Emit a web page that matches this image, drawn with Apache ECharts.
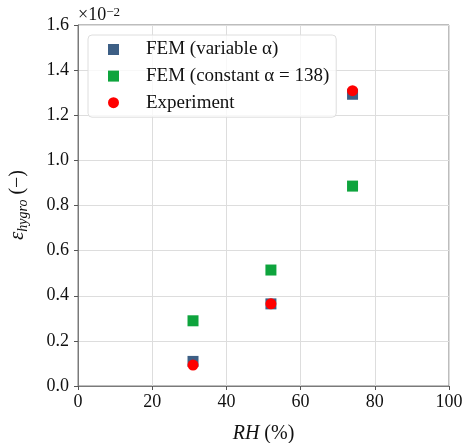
<!DOCTYPE html>
<html><head><meta charset="utf-8">
<script src="https://cdn.jsdelivr.net/npm/echarts@6/dist/echarts.min.js"></script>
<style>html,body{margin:0;padding:0;background:#fff}#c{width:465px;height:443px}</style>
</head><body><div id="c"></div>
<script>
// values in units of 1e-2
const rhValues = [31, 52, 74];
const femVariable = [0.109, 0.364, 1.293];
const femConstant = [0.289, 0.514, 0.886];
const experiment = [0.093, 0.364, 1.309];
const seriesNames = ['FEM (variable α)', 'FEM (constant α = 138)', 'Experiment'];
const xTicks = [0, 20, 40, 60, 80, 100];
const yTicks = [0.0, 0.2, 0.4, 0.6, 0.8, 1.0, 1.2, 1.4, 1.6];

const FONT = '"Liberation Serif", "DejaVu Serif", serif';
const chart = echarts.init(document.getElementById('c'));
const pairs = arr => rhValues.map((x, i) => [x, arr[i]]);
chart.setOption({
  animation: false,
  textStyle: {fontFamily: FONT},
  grid: {left: 78, right: 16, top: 25, bottom: 57, show: true, borderColor: '#7a7a7a', borderWidth: 1,
    containLabel: false, outerBoundsMode: 'none'},
  xAxis: {
    type: 'value', min: 0, max: 100, interval: 20,
    axisLine: {show: true, lineStyle: {color: '#7a7a7a'}},
    axisTick: {show: true, length: 4, lineStyle: {color: '#555'}},
    axisLabel: {color: '#111', fontSize: 18, fontFamily: FONT, margin: 7,
      formatter: v => xTicks.includes(v) ? String(v) : ''},
    splitLine: {show: true, lineStyle: {color: '#dddddd'}},
    name: '{i|RH} (%)', nameLocation: 'middle', nameGap: 38,
    nameTextStyle: {fontSize: 20, fontFamily: FONT, color: '#111',
      rich: {i: {fontStyle: 'italic', fontSize: 20, fontFamily: FONT, color: '#111'}}}
  },
  yAxis: {
    type: 'value', min: 0, max: 1.6, interval: 0.2,
    axisLine: {show: true, lineStyle: {color: '#7a7a7a'}},
    axisTick: {show: true, length: 4, lineStyle: {color: '#555'}},
    axisLabel: {color: '#111', fontSize: 18, fontFamily: FONT, margin: 9,
      formatter: v => yTicks.find(t => Math.abs(t - v) < 1e-6) !== undefined ? v.toFixed(1) : ''},
    splitLine: {show: true, lineStyle: {color: '#dddddd'}}
  },
  legend: {
    orient: 'vertical', left: 88, top: 35,
    padding: [5, 7, 5, 20], itemGap: 7.6,
    itemWidth: 11, itemHeight: 11,
    backgroundColor: 'rgba(255,255,255,0.8)', borderColor: '#dedede', borderWidth: 1, borderRadius: 4,
    textStyle: {fontSize: 19, fontFamily: FONT, color: '#111', padding: [0, 0, 0, 22]},
    data: [
      {name: seriesNames[0], icon: 'rect'},
      {name: seriesNames[1], icon: 'rect'},
      {name: seriesNames[2], icon: 'circle'}
    ]
  },
  graphic: [
    {type: 'text', left: 78, top: 6, style: {
      text: '{a|×10}{b|−2}', fontFamily: FONT,
      rich: {a: {fontSize: 18, fontFamily: FONT, fill: '#111', verticalAlign: 'bottom'},
             b: {fontSize: 13, fontFamily: FONT, fill: '#111', verticalAlign: 'top'}}
    }},
    {type: 'text', x: 17, y: 205, rotation: Math.PI / 2, style: {
      text: '{e|ε}{s|hygro}{n| (−)}', align: 'center', verticalAlign: 'middle', fontFamily: FONT,
      rich: {e: {fontSize: 21, fontStyle: 'italic', fontFamily: FONT, fill: '#111', verticalAlign: 'bottom'},
             s: {fontSize: 14, fontStyle: 'italic', fontFamily: FONT, fill: '#111', verticalAlign: 'bottom', padding: [0, 0, -3, 0]},
             n: {fontSize: 20, fontFamily: FONT, fill: '#111', verticalAlign: 'bottom'}}
    }}
  ],
  series: [
    {name: seriesNames[0], type: 'scatter', symbol: 'rect', symbolSize: 11, data: pairs(femVariable),
      itemStyle: {color: '#3d5f85', opacity: 1}, z: 2},
    {name: seriesNames[1], type: 'scatter', symbol: 'rect', symbolSize: 11, data: pairs(femConstant),
      itemStyle: {color: '#0ea43d', opacity: 1}, z: 3},
    {name: seriesNames[2], type: 'scatter', symbol: 'circle', symbolSize: 11, data: pairs(experiment),
      itemStyle: {color: '#ff0000', opacity: 1}, z: 4}
  ]
});
</script></body></html>
